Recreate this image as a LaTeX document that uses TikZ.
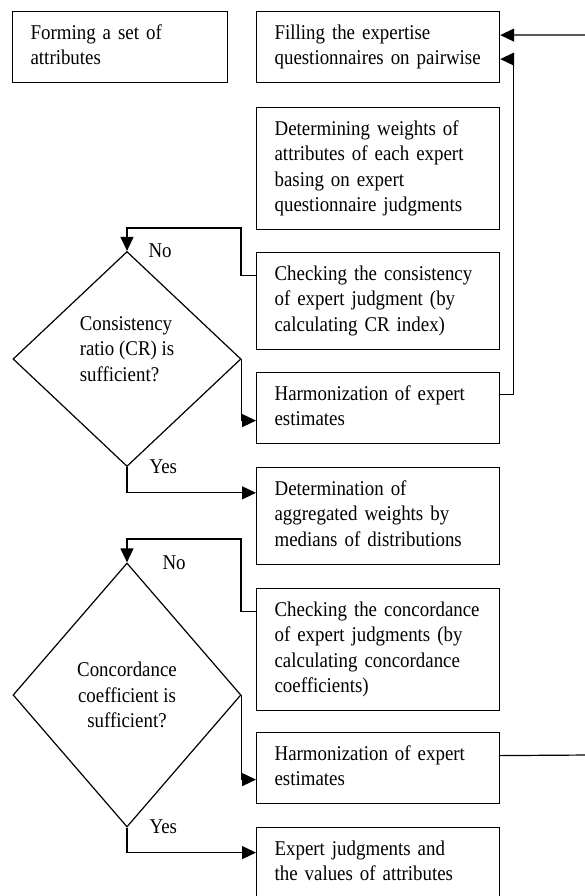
\documentclass[tikz,border=0pt]{standalone}
\usepackage{fontspec}
\setmainfont{Liberation Serif}[FakeStretch=0.9]
\usetikzlibrary{shapes.geometric}
\usetikzlibrary{arrows.meta}

\begin{document}
\begin{tikzpicture}[
  x=1pt, y=-1pt,
  every node/.style={font=\fontsize{21}{25.5}\selectfont},
  stage/.style={draw=black, line width=1.2pt, rectangle, anchor=north west, align=left, text width=207pt, inner xsep=18pt, inner ysep=10pt, execute at begin node=\strut, execute at end node=\strut},
  decision/.style={draw=black, line width=1.2pt, diamond, minimum width=228pt, inner sep=0pt},
  flow/.style={draw=black, line width=1.2pt, -{Triangle[length=14pt, width=13pt]}},
  link/.style={draw=black, line width=1.2pt}
]
\useasboundingbox (0,0) rectangle (585,896);

%% STAGE BOXES
\node[stage, text width=179pt] (attrset) at (12,11) {Forming a set of\\attributes};
\node[stage] (fill) at (256,11) {Filling the expertise\\questionnaires on pairwise};
\node[stage] (weights) at (256,107) {Determining weights of\\attributes of each expert\\basing on expert\\questionnaire judgments};
\node[stage] (consist) at (256,252) {Checking the consistency\\of expert judgment (by\\calculating CR index)};
\node[stage] (harm1) at (256,372) {Harmonization of expert\\estimates};
\node[stage] (aggr) at (256,467) {Determination of\\aggregated weights by\\medians of distributions};
\node[stage] (concord) at (256,588) {Checking the concordance\\of expert judgments (by\\calculating concordance\\coefficients)};
\node[stage] (harm2) at (256,732) {Harmonization of expert\\estimates};
\node[stage] (result) at (256,827) {Expert judgments and\\the values of attributes};

%% DECISIONS
\node[decision, minimum height=215pt, align=left, text depth=20pt] (dia1) at (127,359) {Consistency\\ratio (CR) is\\sufficient?};
\node[decision, minimum height=264pt, align=center] (dia2) at (127,695) {Concordance\\coefficient is\\sufficient?};

%% CONSISTENCY LOOP
\coordinate (loop1) at (241,228);
\draw[flow] ([yshift=25pt]consist.west) -| (loop1) -| (dia1.north);
\draw[flow] (dia1.east) |- ([yshift=-12.5pt]harm1.west);
\draw[flow] (dia1.south) |- ([yshift=23pt]aggr.west);
\draw[flow] ([yshift=13.5pt]harm1.east) -- ++(13,0) |- ([yshift=-12pt]fill.east);

\node[anchor=base west] (no1) at (145,257) {No};
\node[anchor=base west] (yes1) at (146,473) {Yes};

%% CONCORDANCE LOOP
\coordinate (loop2) at (241,539);
\draw[flow] ([yshift=38pt]concord.west) -| (loop2) -| (dia2.north);
\draw[flow] (dia2.east) |- ([yshift=-11.5pt]harm2.west);
\draw[flow] (dia2.south) |- ([yshift=10.5pt]result.west);
\coordinate (back2) at (590,755);
\draw[flow] ([yshift=12.5pt]harm2.east) -- (back2) |- ([yshift=12pt]fill.east);

\node[anchor=base west] (no2) at (159,569) {No};
\node[anchor=base west] (yes2) at (146,833) {Yes};

\end{tikzpicture}
\end{document}
